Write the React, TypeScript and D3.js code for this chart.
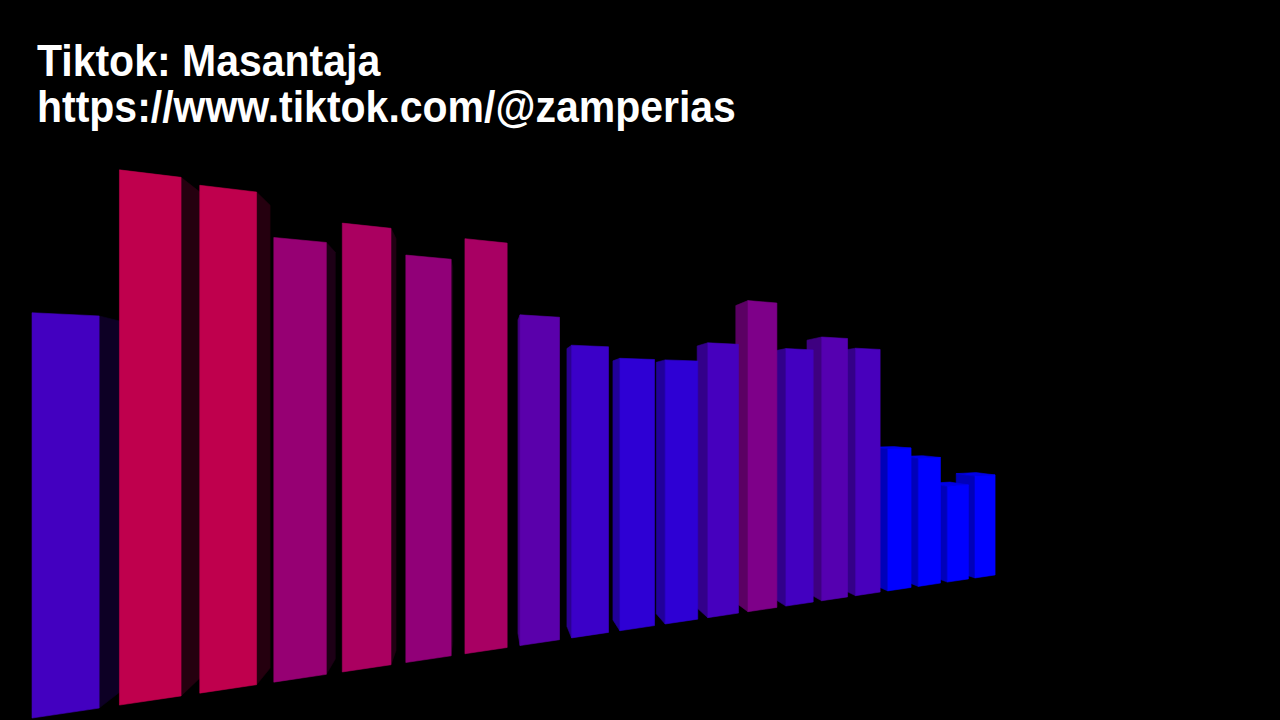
import React from "react";
import * as d3 from "d3";

// ---- data ----
const categories = ["A", "B", "C", "D", "E", "F", "G", "H", "I", "J", "K", "L", "M", "N", "O", "P", "Q", "R", "S", "T"];
const values = [132, 182, 180, 164, 172, 162, 171, 141, 129, 124, 124, 133, 155, 132, 139, 134, 79, 73, 56, 61];
const titleLines = ["Tiktok: Masantaja", "https://www.tiktok.com/@zamperias"];

// ---- camera / scene ----
const W = 1280, H = 720;
const F = 483, CX = 640, CY = 411;
const ALPHA = Math.atan(3.02);
const R = [Math.sin(ALPHA), Math.cos(ALPHA)]; // row direction (x,z)
const DV = [-Math.cos(ALPHA), Math.sin(ALPHA)]; // depth direction (x,z)
const P0 = [-1.98, 1.573]; // first bar front-left-bottom (x,z)
const GROUND = -1;
const DEPTH = 0.12;
const STEP = 0.221;

type V3 = [number, number, number];

function project(p: V3): [number, number] {
  return [CX + (F * p[0]) / p[2], CY - (F * p[1]) / p[2]];
}

export default function App() {
  const n = categories.length;
  const xBand = d3
    .scaleBand<string>()
    .domain(categories)
    .range([0, STEP * (n - 0.24)])
    .paddingInner(0.24)
    .paddingOuter(0);
  const hScale = d3.scaleLinear().domain([0, 100]).range([0, 1]);
  const color = d3
    .scaleLinear<string>()
    .domain([106, 180])
    .range(["#0000ff", "#bf004d"])
    .interpolate(d3.interpolateRgb)
    .clamp(true);

  const pt = (s: number, dep: number, y: number): V3 => [
    P0[0] + s * R[0] + dep * DV[0],
    y,
    P0[1] + s * R[1] + dep * DV[1],
  ];
  const line = d3.line<[number, number]>();

  const bars = categories.map((c, i) => {
    const s0 = xBand(c) as number;
    const s1 = s0 + xBand.bandwidth();
    const yb = GROUND;
    const yt = GROUND + hScale(values[i]);
    const base = color(values[i]);
    const faces: { pts: V3[]; fill: string }[] = [];
    const a = pt(s0, 0, 0);
    const b = pt(s1, 0, 0);
    if (a[0] * R[0] + a[2] * R[1] > 0) {
      faces.push({
        pts: [pt(s0, 0, yb), pt(s0, DEPTH, yb), pt(s0, DEPTH, yt), pt(s0, 0, yt)],
        fill: d3.color(base)!.darker(0.9).formatHex(),
      });
    }
    if (-(b[0] * R[0] + b[2] * R[1]) > 0) {
      faces.push({
        pts: [pt(s1, 0, yb), pt(s1, DEPTH, yb), pt(s1, DEPTH, yt), pt(s1, 0, yt)],
        fill: d3.color(base)!.darker(4.6).formatHex(),
      });
    }
    if (yt < 0) {
      faces.push({
        pts: [pt(s0, 0, yt), pt(s1, 0, yt), pt(s1, DEPTH, yt), pt(s0, DEPTH, yt)],
        fill: d3.color(base)!.darker(0.3).formatHex(),
      });
    }
    faces.push({
      pts: [pt(s0, 0, yb), pt(s1, 0, yb), pt(s1, 0, yt), pt(s0, 0, yt)],
      fill: base,
    });
    const mid = pt((s0 + s1) / 2, DEPTH / 2, 0);
    const dist = Math.hypot(mid[0], mid[2]);
    return { key: c, faces, dist };
  });
  bars.sort((p, q) => q.dist - p.dist);

  return (
    <svg
      width={W}
      height={H}
      style={{ position: "absolute", left: 0, top: 0, display: "block" }}
    >
      <rect x={0} y={0} width={W} height={H} fill="#000" />
      <g>
        {bars.map((b) => (
          <g key={b.key}>
            {b.faces.map((f, j) => (
              <path
                key={j}
                d={line(f.pts.map(project))! + "Z"}
                fill={f.fill}
                stroke={f.fill}
                strokeWidth={0.6}
              />
            ))}
          </g>
        ))}
      </g>
      {titleLines.map((t, i) => (
        <text
          key={i}
          transform={`translate(37,${76 + i * 46}) scale(1,1.08)`}
          fill="#fff"
          fontFamily="'Liberation Sans', Arial, sans-serif"
          fontWeight="bold"
          fontSize={41}
        >
          {t}
        </text>
      ))}
    </svg>
  );
}
